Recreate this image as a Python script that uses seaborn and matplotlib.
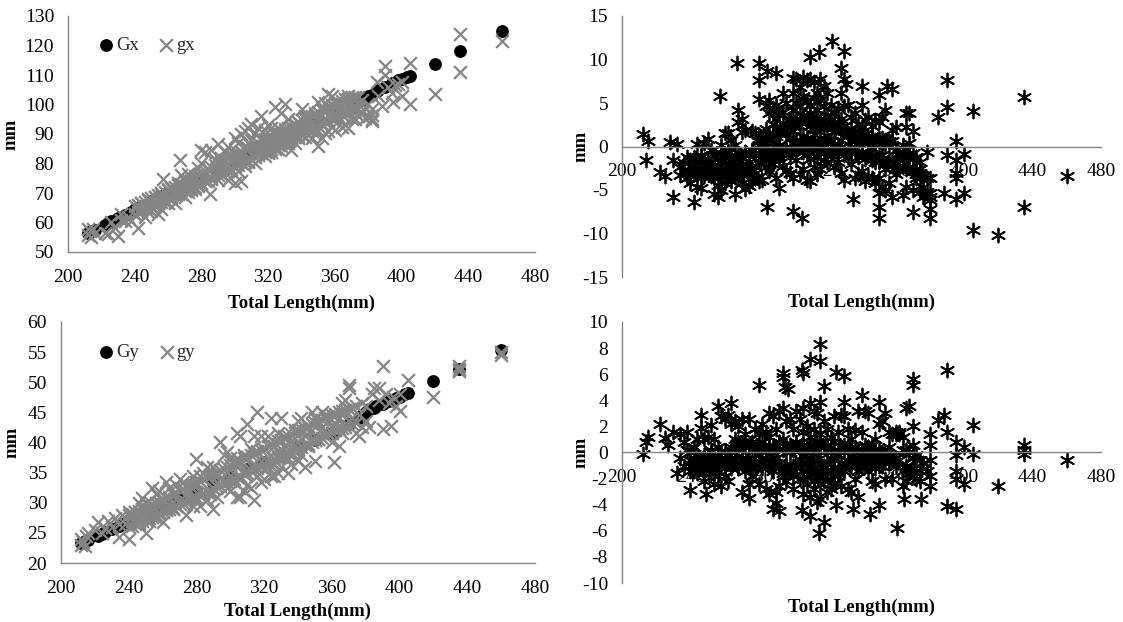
import seaborn as sns
import matplotlib.pyplot as plt

# --- top left: black fitted points and grey measured points
fit_length = [212,213,214,216,222,224,226,230,234,238,240,244,250,254,258,264,270,280,290,300,
              310,320,330,340,350,360,370,376,378,380,382,385,386,390,394,398,400,403,405,420,435,460]
Gx = [56.5,56.8,57,57.5,59.3,59.8,60.4,61.5,62.5,63.6,64.5,65.5,67.3,68.5,69.6,71,72.8,75.5,78.2,81,
      83.8,86.5,89.2,92,94.8,97.5,100.3,101.6,102.2,102.8,103.3,104.5,105,106,107.2,108.3,108.8,109.3,109.6,113.8,118,124.8]
Gy = [23.3,23.4,23.6,23.9,24.5,24.8,25.1,25.6,26.2,26.7,27,27.5,28.2,28.7,29.2,30,30.8,32,33.2,34.4,
      35.6,36.8,38,39.3,40.4,41.6,43,44,44.5,45,45.5,45.8,46,46.4,46.9,47.4,47.6,48,48.2,50.2,52.2,55.3]

gx_length = [212,212,213,214,215,216,222,224,226,228,
             230,232,232,234,236,238,240,242,243,244,
             246,246,248,248,250,250,252,252,254,254,
             256,256,257,258,260,260,262,262,264,264,
             266,267,268,268,270,270,272,272,274,274,
             276,276,278,278,280,280,280,282,282,284,
             285,286,286,288,288,290,290,290,292,292,
             294,294,296,296,298,298,300,300,300,302,
             302,302,304,304,304,306,306,306,308,308,
             308,310,310,310,312,312,312,314,314,316,
             316,316,318,318,318,320,320,320,322,322,
             322,324,324,324,326,326,326,328,328,328,
             330,330,330,332,332,332,334,334,334,336,
             336,336,338,338,338,340,340,340,342,342,
             342,344,344,344,346,346,346,348,348,350,
             350,350,350,352,352,352,354,354,354,356,
             356,356,358,358,358,360,360,360,362,364,
             364,364,366,366,366,368,368,368,370,370,
             372,372,374,374,376,376,378,378,380,380,
             382,382,382,382,385,386,388,390,390,392,
             394,395,396,398,400,400,405,405,420,435,
             435,460]
gx = [57.9,55.8,57.0,55.2,57.8,56.4,56.6,56.0,60.0,58.2,
      55.3,63.0,61.0,60.5,62.0,60.4,62.5,58.0,64.5,66.5,
      62.0,65.0,68.0,63.5,67.0,64.0,68.5,65.5,63.0,67.5,
      69.5,64.5,74.8,67.0,71.5,66.5,72.0,68.0,70.0,66.5,
      73.5,81.2,76.0,69.5,72.5,68.5,76.5,70.5,74.0,71.0,
      75.0,71.5,78.5,72.5,84.5,80.0,73.0,84.0,76.0,78.0,
      69.5,84.5,75.0,81.5,77.0,86.5,80.0,74.5,82.0,76.5,
      84.0,79.0,85.5,74.5,83.0,77.5,88.5,82.0,73.5,87.0,
      82.5,77.5,90.0,84.0,74.0,91.0,86.0,79.0,92.0,87.0,
      80.5,93.5,88.0,81.5,90.5,85.5,80.0,92.0,83.5,96.0,
      88.5,83.5,91.5,86.0,82.5,93.0,88.0,83.5,92.0,87.0,
      84.0,99.0,89.5,85.0,92.0,88.0,85.0,97.0,90.0,86.0,
      100.0,91.0,86.5,95.0,90.0,87.0,92.5,89.0,84.5,93.0,
      90.0,87.0,94.0,91.0,88.5,98.5,92.5,89.5,96.0,92.0,
      89.0,95.0,92.0,89.5,94.0,91.0,88.5,96.5,92.0,101.0,
      95.0,91.0,86.0,99.0,93.5,88.5,100.5,95.5,90.5,103.5,
      96.5,91.0,103.0,96.0,92.5,99.0,95.0,91.5,98.5,100.0,
      96.5,92.5,102.0,98.0,93.0,103.0,97.5,92.0,99.0,95.0,
      97.5,95.0,100.0,96.0,101.5,97.0,99.0,95.5,100.0,96.0,
      98.5,96.5,95.0,94.5,107.5,103.0,99.5,113.0,110.0,106.0,
      104.0,101.0,106.5,107.0,107.5,103.0,114.0,100.0,103.6,123.8,
      111.0,121.5]

# dense middle of the clouds, same lengths for every *_upper / *_lower list
core_length = [240,242,244,246,248,250,252,254,256,258,260,262,264,266,268,270,272,274,276,278,
               280,282,284,286,288,290,292,294,296,298,300,302,304,306,308,310,312,314,316,318,
               320,322,324,326,328,330,332,334,336,338,340,342,344,346,348,350,352,354,356,358,
               360,362,364,366,368,370,372,374]
gx_upper = [65.5,66,66.5,67,67.5,68.3,68.8,69.2,70,70.4,71,71.6,72,72.8,73.2,74,74.4,75,75.6,76.2,
            76.8,77.6,78,78.8,79.4,80,80.6,81,81.8,82.4,83,83.6,84.2,85,85.4,86,86.6,87,87.8,88.2,
            88.8,89.4,90,90.4,91,91.8,92.2,92.8,93.4,94,94.6,95,95.8,96.2,97,97.4,98,98.6,99,99.8,
            100.4,100.8,101.2,101.8,102,102.4,102.4,102.4]
gx_lower = [63,63.5,64,64.5,65,65.5,66,66.6,67,67.6,68.2,68.6,69.2,69.6,70,70.6,71.2,71.6,72.2,72.6,
            73.4,74,74.2,74.8,75.4,76,76.6,77.2,77.6,78.2,78.8,79.4,80,80.6,81,81.6,82.2,82.8,83.4,84,
            84.4,85,85.6,86.2,86.8,87.2,87.8,88.4,89,89.4,90,90.6,91.2,91.8,92.2,92.8,93.4,94,94.4,95,
            95.6,96.2,96.8,97.2,97.6,98,98.4,98.6]
gy_upper = [28,28.2,28.5,28.7,29,29.2,29.4,29.8,30,30.2,30.6,30.8,31,31.4,31.6,32,32.2,32.6,32.8,33,
            33.4,33.6,34,34.2,34.6,34.8,35,35.4,35.6,36,36.2,36.6,36.8,37,37.4,37.6,38,38.2,38.6,38.8,
            39,39.4,39.6,40,40.2,40.4,40.8,41,41.4,41.6,42,42.2,42.4,42.8,43,43.2,43.6,43.8,44,44.4,
            44.6,44.8,45,45.2,45.4,45.6,45.8,46]
gy_lower = [26,26.2,26.4,26.8,27,27.2,27.4,27.6,28,28.2,28.4,28.8,29,29.2,29.4,29.8,30,30.2,30.6,30.8,
            31,31.2,31.6,31.8,32,32.4,32.6,32.8,33.2,33.4,33.6,34,34.2,34.4,34.8,35,35.2,35.6,35.8,36,
            36.4,36.6,36.8,37.2,37.4,37.6,38,38.2,38.4,38.8,39,39.2,39.6,39.8,40,40.4,40.6,40.8,41.2,41.4,
            41.6,42,42.2,42.4,42.6,42.8,43,43.2]
rx_upper = [-1.5,-1.2,-1.8,-1.0,-1.6,-1.4,-1.8,-1.0,-1.4,-0.8,-1.2,-0.6,-1.0,-1.4,-0.8,-1.2,-0.6,-1.0,-0.4,-0.8,
            0.6,0.2,1.0,1.6,1.2,2.0,1.6,2.6,2.2,3.0,2.4,3.2,2.8,3.6,3.0,3.8,2.6,3.4,2.8,3.2,
            2.6,3.0,2.2,2.6,1.8,2.4,1.6,2.0,1.2,1.6,1.0,1.4,0.8,1.2,0.6,1.0,0.4,0.8,0.2,0.6,
            -0.4,-0.8,-0.6,-1.2,-1.0,-1.4,-1.2,-1.8]
rx_lower = [-3.0,-2.6,-3.2,-2.8,-3.4,-3.0,-2.6,-3.2,-2.8,-3.4,-3.0,-2.6,-3.2,-2.8,-3.4,-3.0,-2.6,-3.2,-2.8,-3.0,
            -0.8,-1.2,-0.4,-1.4,-0.6,-1.0,-0.2,-0.8,0.0,-0.6,0.4,-0.4,0.6,-0.2,0.8,0.0,0.6,-0.4,0.4,-0.6,
            0.4,-0.6,0.2,-0.8,0.0,-1.0,-0.4,-0.8,-0.2,-1.2,-0.6,-1.4,-0.8,-1.6,-1.0,-1.8,-1.4,-2.0,-1.6,-2.2,
            -2.0,-2.4,-2.2,-2.6,-2.4,-2.8,-2.6,-3.0]
ry_upper = [0.0,-0.4,-0.2,-0.6,-0.2,-0.4,0.0,-0.6,-0.3,-0.5,0.1,-0.2,0.4,0.0,0.6,0.2,0.8,0.4,0.6,0.2,
            0.4,0.8,0.2,0.6,0.0,0.4,0.8,0.2,0.6,0.0,0.4,0.8,0.2,0.6,0.0,0.4,0.6,0.2,0.8,0.4,
            0.6,0.0,0.8,0.2,0.4,0.0,0.6,0.2,0.4,0.0,0.2,-0.2,0.4,0.0,0.2,-0.2,0.0,-0.4,0.4,-0.2,
            1.4,1.6,1.2,0.2,0.0,-0.4,-0.2,-0.6]
ry_lower = [-1.0,-1.4,-0.8,-1.2,-1.6,-0.8,-1.2,-1.6,-1.0,-0.8,-1.2,-0.6,-1.0,-0.8,-1.2,-0.6,-1.0,-0.6,-1.2,-0.8,
            -0.8,-1.2,-0.6,-1.0,-1.4,-0.8,-1.2,-1.6,-1.0,-1.4,-1.8,-1.2,-0.8,-2.0,-1.4,-1.0,-2.2,-1.6,-2.4,-1.8,
            -1.4,-2.0,-1.2,-1.6,-0.8,-1.2,-0.6,-1.0,-0.8,-1.4,-0.6,-1.0,-0.4,-0.8,-1.2,-0.6,-1.0,-0.4,-0.8,-0.6,
            -1.0,-0.6,-1.4,-1.0,-1.6,-1.2,-2.0,-1.4]

# --- bottom left
gy_length = [212,212,213,214,215,216,220,222,224,226,
             228,230,232,234,234,236,238,240,240,242,
             244,246,246,248,248,250,250,252,252,254,
             254,256,256,258,258,260,260,262,262,264,
             264,266,266,268,270,270,272,272,274,276,
             278,278,280,280,280,282,282,284,284,286,
             286,288,288,290,290,290,292,292,294,294,
             296,296,298,298,298,300,300,300,302,302,
             304,304,304,306,306,306,306,308,308,308,
             310,310,310,312,312,312,314,314,314,316,
             316,316,318,318,318,320,320,320,322,322,
             324,324,324,326,326,326,328,328,328,330,
             330,330,332,332,334,334,334,336,336,338,
             338,340,340,340,342,342,342,344,344,346,
             346,348,348,350,350,350,352,352,354,354,
             356,356,358,358,360,360,361,362,364,364,
             366,366,368,368,370,370,370,372,374,376,
             376,378,378,380,380,382,384,385,388,388,
             390,390,392,394,395,396,398,400,400,405,
             420,435,435,435,460,460]
gy = [23.0,24.0,23.5,22.8,24.5,25.0,25.5,26.8,25.0,25.8,
      27.0,26.0,27.5,26.5,24.3,28.0,26.5,28.5,24.0,27.0,
      28.5,30.0,26.5,30.8,27.5,30.0,25.0,29.0,27.0,32.5,
      29.5,31.5,27.5,32.0,28.5,30.5,26.8,33.5,29.0,32.5,
      29.5,31.5,29.0,33.0,34.0,30.5,33.5,30.0,28.0,32.0,
      34.5,29.5,37.2,33.0,30.5,34.5,29.5,35.0,31.5,36.0,
      30.5,35.5,31.5,36.0,32.5,29.0,34.5,31.0,40.0,34.0,
      38.0,33.5,38.5,35.0,32.5,37.5,34.5,32.0,36.5,33.5,
      41.5,37.5,31.0,41.0,36.5,34.0,31.0,38.0,35.0,32.0,
      43.0,37.5,33.0,39.0,35.5,32.5,41.0,36.5,30.5,45.0,
      38.5,34.5,41.0,37.0,33.5,39.0,36.5,34.0,41.0,36.0,
      44.0,38.0,34.5,39.5,36.5,34.5,41.5,37.5,35.0,44.0,
      39.0,36.0,41.0,37.5,39.0,37.5,35.0,40.0,36.5,42.0,
      38.5,43.5,40.0,37.0,44.0,40.5,38.0,41.0,36.0,42.5,
      39.5,45.0,40.5,44.0,41.0,37.0,43.0,40.5,45.0,41.5,
      44.5,41.0,43.5,41.5,42.5,40.0,36.8,43.0,44.0,39.5,
      46.5,41.5,47.0,43.0,49.5,49.0,43.5,44.0,41.5,44.5,
      41.0,46.5,42.5,46.0,43.5,42.5,48.0,49.0,49.0,47.0,
      52.7,42.2,48.0,46.5,42.7,47.5,46.0,48.0,45.3,50.3,
      47.6,52.7,52.2,51.8,55.0,54.6]

# --- top right, residuals
rx_length = [234,234,236,236,238,238,240,240,242,242,
             244,244,244,246,246,246,248,248,248,250,
             250,250,252,252,252,254,254,254,256,256,
             256,258,258,258,258,260,260,260,260,262,
             262,262,262,264,264,264,264,266,266,266,
             266,268,268,268,268,270,270,270,270,272,
             272,272,272,274,274,274,276,276,276,276,
             278,278,278,280,280,280,280,282,282,282,
             284,284,284,284,286,286,286,286,286,288,
             288,288,288,290,290,290,290,290,292,292,
             292,292,292,294,294,294,294,296,296,296,
             296,298,298,298,298,300,300,300,300,300,
             302,302,302,302,302,304,304,304,304,304,
             306,306,306,306,306,306,308,308,308,308,
             308,308,310,310,310,310,310,310,312,312,
             312,312,312,312,314,314,314,314,314,314,
             316,316,316,316,316,316,318,318,318,318,
             318,320,320,320,320,320,322,322,322,322,
             324,324,324,324,326,326,326,326,328,328,
             328,328,330,330,330,330,330,332,332,332,
             334,334,334,336,336,336,336,338,338,338,
             340,340,340,340,342,342,342,344,344,344,
             346,346,346,348,348,348,348,350,350,350,
             350,350,352,352,352,352,354,354,354,354,
             356,356,358,358,358,360,360,360,362,362,
             364,364,364,366,366,366,366,368,368,368,
             370,370,370,370,372,372,372,374,374,374,
             376,376,376,378,378,378,380,380,
             212,215,214,222,225,228,230,230,232,242,
             257,267,280,280,280,285,285,290,294,300,
             300,305,310,315,323,330,328,331,340,335,
             350,350,350,355,358,370,380,380,380,380,
             385,390,390,395,400,400,395,405,405,420,
             435,435,460,390,395,395,395,388]
rx = [-2.4,-3.3,-1.9,-2.8,-3.6,-1.2,-2.2,-4.2,-3.0,-1.6,
      0.3,-2.6,-4.6,-1.2,-3.3,-4.8,0.4,-2.0,-3.1,0.9,
      -1.9,-2.8,-2.4,-3.4,-0.4,-2.6,-3.6,-5.5,-2.2,-4.4,
      -5.8,0.2,-1.7,-3.1,-5.0,1.5,-0.9,-2.5,-4.2,1.6,
      -0.5,-2.1,-3.4,0.7,-1.5,-2.8,-4.0,0.2,-2.2,-3.5,
      -5.5,4.2,2.8,-1.4,-3.0,3.2,1.7,-2.4,-4.2,1.9,
      -0.6,-2.6,-4.9,-1.8,-3.2,-4.5,1.8,-0.4,-2.6,-4.0,
      1.6,-1.0,-3.6,1.3,0.2,-1.8,-4.0,0.8,-1.2,-3.8,
      4.6,2.0,-0.6,-2.4,5.4,3.8,1.0,-1.2,-2.8,4.4,
      2.6,0.4,-2.0,4.8,3.2,1.2,-0.8,-3.6,3.6,1.8,
      0.2,-1.6,-4.8,4.0,2.0,-0.6,-2.2,5.0,1.4,-0.4,
      -2.8,3.2,1.0,-1.2,-3.0,6.2,4.2,1.8,-0.4,-3.6,
      7.8,5.0,2.8,0.6,-1.6,6.8,4.6,2.4,0.2,-3.2,
      8.0,5.8,3.4,1.2,-0.6,-2.6,7.6,5.2,3.0,1.0,
      -1.0,-3.8,7.8,4.8,2.4,0.4,-1.4,-4.0,7.4,5.6,
      3.2,1.4,-0.4,-2.4,6.2,4.2,2.2,0.2,-1.2,-3.2,
      7.8,5.4,3.0,1.0,-0.8,-2.6,7.0,4.6,2.2,0.2,
      -1.6,6.2,3.6,1.2,-0.4,-1.8,4.8,2.6,0.6,-1.0,
      3.8,1.8,0.2,-2.4,4.4,2.4,0.2,-1.8,6.2,3.2,
      0.8,-3.0,7.8,4.6,1.8,-0.6,-3.8,4.8,1.4,-1.2,
      3.4,0.6,-2.0,3.8,1.6,-0.8,-3.6,2.6,0.4,-3.2,
      4.8,2.2,-0.6,-2.8,3.0,1.0,-4.0,3.4,0.6,-3.4,
      2.4,-0.2,-3.6,3.0,0.8,-1.8,-4.2,2.8,0.6,-1.2,
      -3.6,-5.4,3.4,1.0,-1.0,-4.6,4.2,0.2,-2.6,-5.0,
      0.6,-4.2,1.9,-1.6,-5.8,2.2,-1.8,-3.2,-1.0,-2.6,
      0.2,-2.2,-5.6,3.9,2.2,-0.4,-4.6,3.9,0.4,-2.4,
      1.8,-0.8,-2.8,-5.0,-1.2,-3.2,-3.6,-3.6,-5.2,-2.6,
      -3.4,-4.6,-5.8,-0.6,-3.6,-5.2,-3.6,-5.8,
      1.4,0.6,-1.5,-2.9,-3.4,0.5,-1.6,-5.8,0.3,-6.4,
      5.8,9.6,9.6,7.6,5.5,-7.0,8.7,8.5,6.1,7.9,
      -7.4,-8.2,10.3,10.9,12.1,11.0,9.0,7.2,6.9,-6.0,
      -8.2,-7.0,5.9,7.0,6.6,-7.5,-8.2,-7.2,-6.2,-5.3,
      3.4,7.6,4.5,0.6,-0.9,-5.3,-6.0,4.1,-9.6,-10.2,
      5.7,-7.0,-3.4,-1.0,-1.6,-3.0,-3.6,-5.3]

# --- bottom right, residuals
ry_length = [234,234,236,236,238,238,240,240,242,242,
             244,244,244,246,246,248,248,248,250,250,
             252,252,252,254,254,254,256,256,256,258,
             258,258,258,260,260,260,262,262,262,264,
             264,264,266,266,266,268,268,268,270,270,
             270,270,272,272,272,274,274,274,276,276,
             276,278,278,278,280,280,280,282,282,282,
             284,284,284,286,286,286,286,288,288,288,
             290,290,290,292,292,292,292,294,294,294,
             296,296,296,298,298,298,300,300,300,300,
             302,302,302,304,304,304,304,306,306,306,
             306,306,308,308,308,308,310,310,310,310,
             310,312,312,312,312,312,314,314,314,314,
             314,316,316,316,316,316,318,318,318,318,
             320,320,320,320,322,322,322,322,324,324,
             324,324,326,326,326,328,328,328,330,330,
             330,330,332,332,332,334,334,334,336,336,
             336,338,338,338,340,340,340,342,342,342,
             344,344,344,346,346,346,348,348,348,350,
             350,350,350,352,352,352,354,354,354,356,
             356,358,358,360,360,362,364,364,366,366,
             366,368,368,370,370,370,372,372,374,376,
             378,380,380,380,380,380,
             212,214,215,222,225,227,230,232,240,249,
             246,256,264,274,280,290,288,292,294,294,
             295,297,305,306,310,316,316,318,325,330,
             305,310,315,318,325,335,345,350,361,370,
             370,365,375,385,388,390,390,390,395,395,
             400,400,405,405,420,435,435,435,460,395,395,395]
ry = [1.4,-0.4,0.8,-1.0,1.6,0.2,-0.6,-1.4,0.4,-0.9,
      1.0,-0.6,-1.6,1.9,-1.2,1.0,-0.4,-2.2,1.2,-1.0,
      2.1,0.2,-1.6,1.0,-0.8,-2.4,0.4,-0.7,-1.8,2.8,
      0.0,-1.0,-2.6,2.6,-0.4,-1.8,2.9,-0.6,-2.2,2.2,
      0.2,-1.2,2.4,1.0,-0.5,2.0,0.8,-1.2,2.6,0.7,
      -0.4,-3.0,1.4,0.4,-1.4,2.6,0.6,-2.4,0.8,-0.4,
      -1.8,1.8,0.2,-1.2,1.4,-0.2,-2.4,2.2,0.4,-0.8,
      1.6,0.0,-2.8,3.0,1.2,-0.6,-3.2,2.8,0.4,-1.4,
      1.8,-0.4,-3.0,3.2,0.8,-0.8,-2.6,3.4,1.0,-1.8,
      2.4,0.0,-2.2,2.6,0.6,-1.0,1.8,0.2,-1.0,-2.8,
      3.2,0.8,-1.0,2.6,0.4,-0.6,-2.0,3.4,1.6,-0.2,
      -1.4,-3.2,2.0,0.6,-0.8,-2.4,3.8,1.2,-0.4,-1.6,
      -3.4,3.2,1.8,0.2,-1.2,-2.8,3.0,0.8,-0.6,-1.8,
      -3.8,3.9,1.4,-0.4,-1.4,-3.6,2.4,0.4,-1.0,-2.2,
      1.8,0.2,-0.8,-3.0,1.2,-0.4,-1.6,-2.8,2.8,0.8,
      -0.6,-2.4,1.6,-0.2,-1.8,2.9,0.4,-2.6,3.9,2.8,
      0.6,-1.4,1.8,-0.6,-2.8,1.0,-0.8,-3.0,1.7,-0.4,
      -2.0,3.2,0.2,-3.4,4.4,1.6,-1.0,3.2,0.6,-0.8,
      3.0,0.4,-1.4,0.6,-0.8,-2.2,1.0,-0.4,-2.4,3.9,
      2.2,0.2,-1.0,2.4,-0.4,-1.0,3.0,-0.2,-2.0,1.6,
      -0.6,1.4,-2.0,1.6,-0.4,1.4,0.2,-2.6,3.4,-1.2,
      -2.2,3.6,0.0,2.0,0.6,-1.8,-0.6,-1.6,-2.2,-0.8,
      -1.4,1.4,0.6,-0.6,-1.8,-2.6,
      -0.1,0.8,1.2,2.2,1.1,0.6,1.6,-1.6,-2.9,-3.2,
      2.9,3.6,3.8,-3.5,5.2,-3.9,-4.3,-4.5,6.1,5.8,
      5.0,4.9,6.3,6.1,7.2,7.0,8.3,5.1,6.2,5.9,
      -4.4,-4.9,-6.2,-5.3,-4.0,-4.3,-4.7,-4.0,-5.8,5.6,
      5.2,-3.6,-3.6,2.5,2.9,6.3,1.6,-4.1,-4.3,0.8,
      0.4,-2.4,2.1,-0.1,-2.6,0.6,0.2,-0.1,-0.6,-0.2,-1.4,-2.0]

x_ticks = [200,240,280,320,360,400,440,480]

sns.set_theme(style="white")
plt.rcParams['font.family'] = ['Liberation Serif', 'DejaVu Sans']
plt.rcParams['axes.unicode_minus'] = False

W, H = 1123, 622
fig = plt.figure(figsize=(W/100, H/100), dpi=100)
GREY = "#858585"
STAR = (6, 2, 0)

def add_axes(x0, x1, ytop, ybot):
    return fig.add_axes([x0/W, 1-ybot/H, (x1-x0)/W, (ybot-ytop)/H])

def style(ax, ylim, ystep, xlab_y, ylab_x, xpad):
    ax.set_xlim(200, 480)
    ax.set_ylim(*ylim)
    ax.set_xticks(x_ticks)
    ax.set_yticks(range(ylim[0], ylim[1]+1, ystep))
    ax.set_axisbelow(True)
    for s in ['top', 'right']:
        ax.spines[s].set_visible(False)
    for s in ['left', 'bottom']:
        ax.spines[s].set_color(GREY)
        ax.spines[s].set_linewidth(1)
    ax.tick_params(axis='x', direction='in', length=4.5, width=1, color=GREY,
                   labelsize=14, labelcolor='black', pad=xpad)
    ax.tick_params(axis='y', direction='in', length=4.5, width=1, color=GREY,
                   labelsize=14, labelcolor='black', pad=10)
    ax.set_xlabel("Total Length(mm)", fontsize=13.5, fontweight='bold', color='black')
    ax.set_ylabel("mm", fontsize=13.5, fontweight='bold', color='black')
    ax.xaxis.set_label_coords(0.5, xlab_y)
    ax.yaxis.set_label_coords(ylab_x, 0.5)

def overlay(ax, fit_x, fit_y, pts_x, pts_y, core_y, names, anchor_x):
    sns.scatterplot(x=fit_x, y=fit_y, color='black', marker='o', s=85, linewidth=0,
                    label=names[0], ax=ax, clip_on=False)
    sns.scatterplot(x=pts_x, y=pts_y, color=GREY, marker='x', s=85, linewidth=1.6,
                    label=names[1], ax=ax, clip_on=False)
    for vals in core_y:
        sns.scatterplot(x=core_length, y=vals, color=GREY, marker='x', s=85, linewidth=1.6,
                        ax=ax, clip_on=False)
    ax.legend(loc='upper left', bbox_to_anchor=(anchor_x, 0.911), ncol=2, frameon=False,
              fontsize=13.5, handletextpad=-0.47, columnspacing=0.47, borderpad=0, borderaxespad=0)

def residual(ax, xs, ys, core_y):
    sns.scatterplot(x=xs, y=ys, color='black', marker=STAR, s=100, linewidth=1.3,
                    ax=ax, clip_on=False)
    for vals in core_y:
        sns.scatterplot(x=core_length, y=vals, color='black', marker=STAR, s=100, linewidth=1.3,
                        ax=ax, clip_on=False)
    ax.spines['bottom'].set_position(('data', 0))

ax1 = add_axes(68, 535, 16, 252)
overlay(ax1, fit_length, Gx, gx_length, gx, [gx_upper, gx_lower], ("Gx", "gx"), 0.041)
style(ax1, (50, 130), 10, -0.182, -0.103, 12)

ax2 = add_axes(622, 1101, 16, 277)
residual(ax2, rx_length, rx, [rx_upper, rx_lower])
style(ax2, (-15, 15), 5, -0.065, -0.067, 12)

ax3 = add_axes(61, 535, 322, 563)
overlay(ax3, fit_length, Gy, gy_length, gy, [gy_upper, gy_lower], ("Gy", "gy"), 0.056)
style(ax3, (20, 60), 5, -0.166, -0.0865, 12)

ax4 = add_axes(622, 1101, 322, 583)
residual(ax4, ry_length, ry, [ry_upper, ry_lower])
style(ax4, (-10, 10), 2, -0.061, -0.067, 12)

fig.savefig("out.png", dpi=100)
